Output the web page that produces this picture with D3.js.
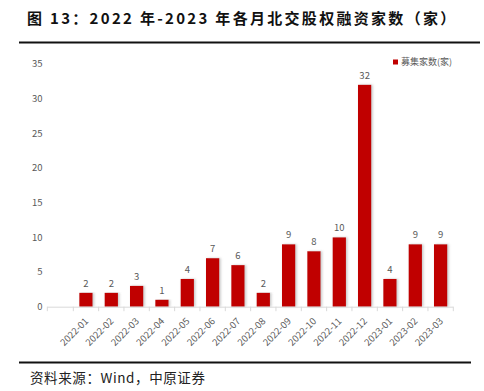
<!DOCTYPE html>
<html>
<head>
<meta charset="utf-8">
<script src="https://cdn.jsdelivr.net/npm/d3@7"></script>
<style>
  body { margin: 0; background: #fff; }
  svg { display: block; font-family: "Noto Sans CJK SC", "Open Sans", sans-serif; }
</style>
</head>
<body>
<div id="chart"></div>
<script>
var months = ["2022-01", "2022-02", "2022-03", "2022-04", "2022-05", "2022-06", "2022-07", "2022-08",
              "2022-09", "2022-10", "2022-11", "2022-12", "2023-01", "2023-02", "2023-03"];
var counts = [2, 2, 3, 1, 4, 7, 6, 2, 9, 8, 10, 32, 4, 9, 9];
var yTicks = [0, 5, 10, 15, 20, 25, 30, 35];
var seriesName = "募集家数(家)";

var width = 484, height = 391;
var svg = d3.select("#chart").append("svg")
    .attr("width", width).attr("height", height);

// title + rules
svg.append("text")
    .attr("x", 27).attr("y", 24)
    .style("font-size", "15px").style("font-weight", "bold")
    .style("letter-spacing", "2.3px")
    .attr("fill", "#111")
    .text("图 13：2022 年-2023 年各月北交股权融资家数（家）");
svg.append("line").attr("x1", 19).attr("x2", 480).attr("y1", 42.5).attr("y2", 42.5)
    .attr("stroke", "#111").attr("stroke-width", 2.2);
svg.append("line").attr("x1", 19).attr("x2", 471).attr("y1", 362.5).attr("y2", 362.5)
    .attr("stroke", "#111").attr("stroke-width", 2.2);
svg.append("text")
    .attr("x", 30).attr("y", 383)
    .style("font-size", "13.5px").style("letter-spacing", "0.6px")
    .attr("fill", "#222")
    .text("资料来源：Wind，中原证券");

var axisLeft = 47.3;
var x = d3.scaleBand().domain(months).range([73.3, 453.3]).paddingInner(0.475).paddingOuter(0.2375);
var y = d3.scaleLinear().domain([0, 35]).range([306.7, 64]);

var defs = svg.append("defs");
var f = defs.append("filter").attr("id", "shadow").attr("x", "-20%").attr("y", "-5%")
    .attr("width", "160%").attr("height", "110%");
f.append("feDropShadow").attr("dx", 1.5).attr("dy", 0).attr("stdDeviation", 0.8)
    .attr("flood-color", "#888").attr("flood-opacity", 0.45);

// y labels
svg.append("g").selectAll("text").data(yTicks).enter().append("text")
    .attr("x", 42.5).attr("y", function(d) { return y(d); })
    .attr("dy", "0.35em").attr("text-anchor", "end")
    .style("font-size", "9.5px").attr("fill", "#595959")
    .text(function(d) { return d; });

// bars
svg.append("g").selectAll("rect").data(counts).enter().append("rect")
    .attr("x", function(d, i) { return x(months[i]); })
    .attr("y", function(d) { return y(d); })
    .attr("width", x.bandwidth())
    .attr("height", function(d) { return y(0) - y(d); })
    .attr("fill", "#c00000")
    .attr("filter", "url(#shadow)");

// value labels
svg.append("g").selectAll("text").data(counts).enter().append("text")
    .attr("x", function(d, i) { return x(months[i]) + x.bandwidth() / 2; })
    .attr("y", function(d) { return y(d) - 6; })
    .attr("text-anchor", "middle")
    .style("font-size", "9.5px").attr("fill", "#595959")
    .text(function(d) { return d; });

// x axis
var xa = svg.append("g");
xa.append("line").attr("x1", axisLeft).attr("x2", 453.3)
    .attr("y1", y(0) + 0.5).attr("y2", y(0) + 0.5)
    .attr("stroke", "#d9d9d9").attr("stroke-width", 1);
var tickPos = [axisLeft].concat(months.map(function(m) { return x(m) - x.step() * x.paddingInner() / 2; }), [453.3]);
xa.selectAll("line.tick").data(tickPos).enter().append("line")
    .attr("class", "tick")
    .attr("x1", function(d) { return d; }).attr("x2", function(d) { return d; })
    .attr("y1", y(0)).attr("y2", y(0) + 4.5)
    .attr("stroke", "#d9d9d9");
xa.selectAll("text").data(months).enter().append("text")
    .attr("transform", function(d) {
        return "translate(" + (x(d) + x.bandwidth() / 2 + 3) + "," + (y(0) + 15) + ") rotate(-45)";
    })
    .attr("text-anchor", "end")
    .style("font-size", "9.5px").attr("fill", "#595959")
    .text(function(d) { return d; });

// legend
svg.append("rect").attr("x", 393).attr("y", 59.5).attr("width", 5).attr("height", 5).attr("fill", "#c00000");
svg.append("text").attr("x", 401).attr("y", 62).attr("dy", "0.35em")
    .style("font-size", "9px").attr("fill", "#595959")
    .text(seriesName);
</script>
</body>
</html>
